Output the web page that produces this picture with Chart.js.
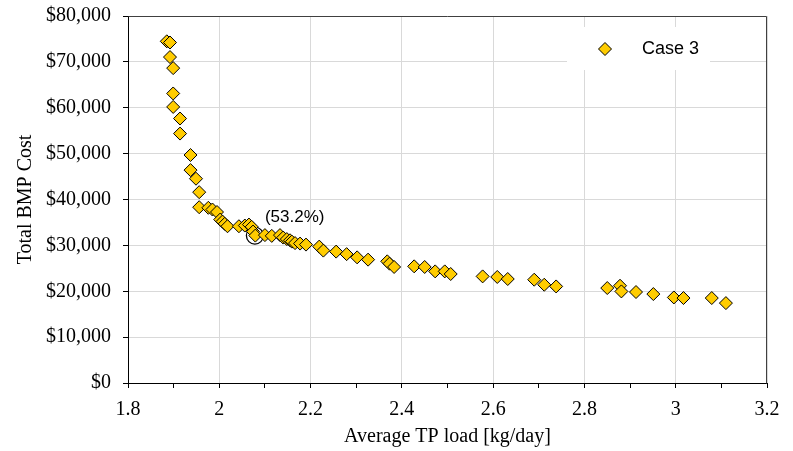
<!DOCTYPE html>
<html>
<head>
<meta charset="utf-8">
<script src="https://cdn.jsdelivr.net/npm/chart.js@4/dist/chart.umd.min.js"></script>
<style>
html,body{margin:0;padding:0;background:#fff;}
canvas{display:block;}
</style>
</head>
<body>
<canvas id="c" width="793" height="451"></canvas>
<script>
// ---- data ----
const seriesName = 'Case 3';
const tpLoad = [
  1.885, 1.892, 1.892, 1.899, 1.899, 1.899, 1.914, 1.914, 1.937, 1.937,
  1.949, 1.956, 1.956, 1.976, 1.985, 1.995, 2.002, 2.007, 2.012, 2.018,
  2.043, 2.056, 2.065, 2.071, 2.074, 2.079, 2.100, 2.115, 2.133, 2.140,
  2.148, 2.155, 2.159, 2.166, 2.177, 2.190, 2.219, 2.228, 2.256, 2.279,
  2.302, 2.326, 2.368, 2.373, 2.383, 2.427, 2.450, 2.473, 2.494, 2.507,
  2.577, 2.609, 2.632, 2.690, 2.712, 2.738, 2.850, 2.878, 2.881, 2.913,
  2.951, 2.996, 3.017, 3.079, 3.110
];
const bmpCost = [
  74480, 74220, 71050, 68640, 63110, 60180, 57650, 54370, 49700, 46410,
  44530, 41600, 38320, 38190, 37820, 37270, 35630, 35190, 34690, 34170,
  34170, 34320, 34540, 34040, 33010, 32130, 32240, 32070, 32240, 31700,
  31370, 31110, 30820, 30500, 30390, 30170, 29730, 28860, 28640, 28090,
  27390, 26890, 26520, 26010, 25290, 25430, 25290, 24330, 24330, 23760,
  23240, 23110, 22670, 22520, 21420, 21050, 20700, 21200, 19960, 19830,
  19390, 18650, 18520, 18520, 17420
];
const highlightLoad = [2.078];
const highlightCost = [32130];
const highlightLabel = '(53.2%)';
const xMin = 1.8, xMax = 3.2, xMinorStep = 0.1;
const yMin = 0, yMax = 80000, yStep = 10000;
const xTitle = 'Average TP load [kg/day]';
const yTitle = 'Total BMP Cost';

const serif = 'Liberation Serif';
const sans = 'Liberation Sans';

const framePlugin = {
  id: 'frame',
  afterDatasetsDraw(chart) {
    const {ctx, chartArea: a} = chart;
    ctx.save();
    ctx.strokeStyle = '#404040';
    ctx.lineWidth = 1;
    ctx.beginPath();
    ctx.moveTo(Math.round(a.left) + 0.5, Math.round(a.top) + 0.5);
    ctx.lineTo(Math.round(a.right) - 0.5, Math.round(a.top) + 0.5);
    ctx.lineTo(Math.round(a.right) - 0.5, Math.round(a.bottom) + 0.5);
    ctx.stroke();
    ctx.restore();
  }
};

const legendPlugin = {
  id: 'boxLegend',
  beforeDatasetsDraw(chart) {
    const {ctx, chartArea: a} = chart;
    const bx = a.right - 200, by = a.top + 11, bw = 143, bh = 43;
    ctx.save();
    ctx.fillStyle = '#fff';
    ctx.fillRect(bx, by, bw, bh);
    const cx = bx + 38, cy = by + 22, r = 6.5;
    ctx.beginPath();
    ctx.moveTo(cx, cy - r);
    ctx.lineTo(cx + r, cy);
    ctx.lineTo(cx, cy + r);
    ctx.lineTo(cx - r, cy);
    ctx.closePath();
    ctx.fillStyle = '#FFCC00';
    ctx.fill();
    ctx.strokeStyle = '#000';
    ctx.lineWidth = 1;
    ctx.stroke();
    ctx.fillStyle = '#000';
    ctx.font = '18px "' + sans + '"';
    ctx.textAlign = 'left';
    ctx.textBaseline = 'middle';
    ctx.fillText(seriesName, bx + 75, cy);
    ctx.restore();
  }
};

const notePlugin = {
  id: 'note',
  afterDatasetsDraw(chart) {
    const {ctx} = chart;
    const xs = chart.scales.x, ys = chart.scales.y;
    const px = xs.getPixelForValue(highlightLoad[0]);
    const py = ys.getPixelForValue(highlightCost[0]);
    ctx.save();
    ctx.fillStyle = '#000';
    ctx.font = '17px "' + sans + '"';
    ctx.textAlign = 'left';
    ctx.textBaseline = 'middle';
    ctx.fillText(highlightLabel, px + 10, py - 18);
    ctx.restore();
  }
};

const isMajor = v => Math.abs(Math.round(v * 10)) % 2 === 0;

new Chart(document.getElementById('c'), {
  type: 'scatter',
  data: {
    datasets: [
      {
        label: seriesName,
        data: tpLoad.map((x, i) => ({x: x, y: bmpCost[i]})),
        pointStyle: 'rectRot',
        pointRadius: 6.5,
        pointHoverRadius: 6.5,
        pointBackgroundColor: '#FFCC00',
        pointBorderColor: '#000',
        pointBorderWidth: 1
      },
      {
        label: 'highlight',
        data: highlightLoad.map((x, i) => ({x: x, y: highlightCost[i]})),
        pointStyle: 'circle',
        pointRadius: 8.5,
        pointHoverRadius: 8.5,
        pointBackgroundColor: 'rgba(0,0,0,0)',
        pointBorderColor: '#000',
        pointBorderWidth: 1.3
      }
    ]
  },
  options: {
    responsive: false,
    animation: false,
    events: [],
    layout: {padding: {left: 0, right: 26, top: 16, bottom: 0}},
    plugins: {legend: {display: false}, tooltip: {enabled: false}},
    scales: {
      x: {
        type: 'linear',
        min: xMin, max: xMax,
        afterFit(s) { s.height = 68; },
        ticks: {
          stepSize: xMinorStep,
          autoSkip: false,
          maxRotation: 0,
          padding: 10,
          color: '#000',
          font: {family: serif, size: 20},
          callback: v => isMajor(v) ? String(Math.round(v * 10) / 10) : ''
        },
        grid: {
          color: c => (c.tick && isMajor(c.tick.value)) ? '#d9d9d9' : 'rgba(0,0,0,0)',
          tickColor: '#000',
          tickLength: 5,
          lineWidth: 1
        },
        border: {display: true, color: '#000', width: 1},
        title: {
          display: true, text: xTitle, color: '#000',
          font: {family: serif, size: 20},
          padding: {top: 0, bottom: 2}
        }
      },
      y: {
        type: 'linear',
        min: yMin, max: yMax,
        afterFit(s) { s.width = 128; s.paddingTop = 0; s.paddingBottom = 0; },
        ticks: {
          stepSize: yStep,
          padding: 12,
          color: '#000',
          font: {family: serif, size: 20},
          callback: v => '$' + Number(v).toLocaleString('en-US')
        },
        grid: {
          color: '#d9d9d9',
          tickColor: '#000',
          tickLength: 5,
          lineWidth: 1
        },
        border: {display: true, color: '#000', width: 1},
        title: {
          display: true, text: yTitle, color: '#000',
          font: {family: serif, size: 20},
          padding: {top: 14, bottom: 0}
        }
      }
    }
  },
  plugins: [framePlugin, legendPlugin, notePlugin]
});
</script>
</body>
</html>
